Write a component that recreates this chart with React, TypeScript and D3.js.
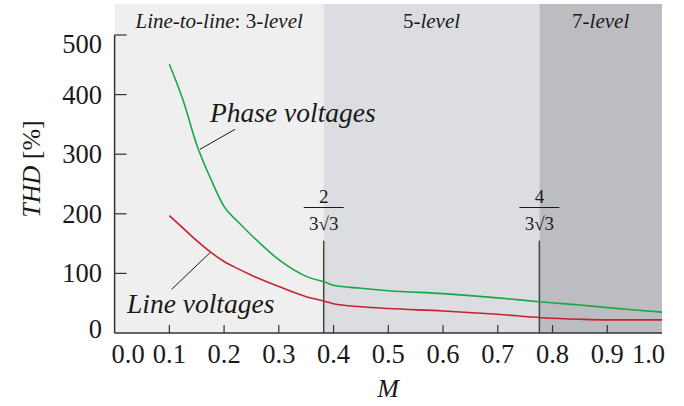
import React from "react";
import * as d3 from "d3";

const mValues = [0.1, 0.125, 0.15, 0.175, 0.2, 0.225, 0.25, 0.3, 0.35, 0.385, 0.4, 0.45, 0.5, 0.6, 0.7, 0.78, 0.85, 0.9, 0.95, 1.0];
const phaseTHD = [451, 391, 316, 260, 212, 187, 164, 123, 95, 85, 80, 75, 71, 66, 59, 52, 47, 42.5, 38.5, 35];
const lineTHD = [197, 176, 155, 136, 120, 108, 97, 78, 61, 53, 49, 44, 41, 37, 31.4, 25.7, 23, 22, 22, 22];

const xTicks = [0.0, 0.1, 0.2, 0.3, 0.4, 0.5, 0.6, 0.7, 0.8, 0.9, 1.0];
const yTicks = [0, 100, 200, 300, 400, 500];
const boundaries = [0.382, 0.776];
const fractionNumerators = ["2", "4"];
const regionLabels = [
  { parts: [{ t: "Line-to-line", i: true }, { t: ": 3-", i: false }, { t: "level", i: true }] },
  { parts: [{ t: "5-", i: false }, { t: "level", i: true }] },
  { parts: [{ t: "7-", i: false }, { t: "level", i: true }] },
];
const regionColors = ["#efefef", "#dcdde0", "#bcbdc1"];

const W = 684;
const H = 406;
const FONT = "Liberation Serif";
const BIGFONT = "Times New Roman";

function BigText({ x, y, size, rotate = 0, children, ...rest }: any) {
  return (
    <text
      transform={`translate(${x},${y}) rotate(${rotate})`}
      fontFamily={BIGFONT}
      fontSize={size}
      fill="#1a1a1a"
      {...rest}
    >
      {children}
    </text>
  );
}

export default function App() {
  const x = d3.scaleLinear().domain([0, 1]).range([114.6, 662]);
  const y = d3.scaleLinear().domain([0, 500]).range([333, 35]);
  const plotTop = 4;

  const edges = [0, ...boundaries, 1];

  const line = d3
    .line<number>()
    .x((_, i) => x(mValues[i]))
    .y((d) => y(d))
    .curve(d3.curveMonotoneX);

  return (
    <svg width={W} height={H} style={{ position: "absolute", left: 0, top: 0 }}>
      <rect x={0} y={0} width={W} height={H} fill="#ffffff" />
      {regionColors.map((c, i) => (
        <rect
          key={i}
          x={x(edges[i])}
          y={plotTop}
          width={x(edges[i + 1]) - x(edges[i])}
          height={y(0) - plotTop}
          fill={c}
        />
      ))}
      {regionLabels.map((r, i) => (
        <text
          key={i}
          x={(x(edges[i]) + x(edges[i + 1])) / 2}
          y={28}
          textAnchor="middle"
          fontSize={21}
          fontFamily={FONT}
          fill="#1a1a1a"
        >
          {r.parts.map((p, j) => (
            <tspan key={j} fontStyle={p.i ? "italic" : "normal"}>
              {p.t}
            </tspan>
          ))}
        </text>
      ))}

      {boundaries.map((b, i) => (
        <g key={i}>
          <line x1={x(b)} x2={x(b)} y1={240.7} y2={y(0)} stroke="#444" strokeWidth={1.5} />
          <text x={x(b)} y={203.3} textAnchor="middle" fontSize={19} fontFamily={FONT} fill="#1a1a1a">
            {fractionNumerators[i]}
          </text>
          <line x1={x(b) - 20} x2={x(b) + 20} y1={207.5} y2={207.5} stroke="#1a1a1a" strokeWidth={1} />
          <text x={x(b)} y={230} textAnchor="middle" fontSize={19} fontFamily={FONT} fill="#1a1a1a">
            3√3
          </text>
        </g>
      ))}

      <path d={line(phaseTHD) || ""} fill="none" stroke="#1aa64a" strokeWidth={1.6} />
      <path d={line(lineTHD) || ""} fill="none" stroke="#c8202f" strokeWidth={1.6} />

      <line x1={x(0)} x2={x(0)} y1={y(500)} y2={y(0)} stroke="#333" strokeWidth={1.5} />
      <line x1={x(0)} x2={x(1)} y1={y(0)} y2={y(0)} stroke="#333" strokeWidth={1.5} />
      {yTicks
        .filter((t) => t > 0)
        .map((t) => (
          <line key={t} x1={x(0)} x2={x(0) + 12} y1={y(t)} y2={y(t)} stroke="#333" strokeWidth={1.2} />
        ))}
      {xTicks
        .filter((t) => t > 0 && t < 1)
        .map((t) => (
          <line key={t} x1={x(t)} x2={x(t)} y1={y(0)} y2={y(0) - 8} stroke="#333" strokeWidth={1.2} />
        ))}
      {yTicks.map((t) => (
        <BigText key={t} x={102} y={y(t) + (t === 500 ? 18 : t === 0 ? 5 : 9)} size={26.5} textAnchor="end">
          {t}
        </BigText>
      ))}
      {xTicks.map((t) => (
        <BigText key={t} x={x(t) + (t === 0 ? 13.5 : t === 1 ? -13.5 : 0)} y={363} size={26.5} textAnchor="middle">
          {t.toFixed(1)}
        </BigText>
      ))}

      <BigText x={388} y={397} size={26} textAnchor="middle" fontStyle="italic">
        M
      </BigText>
      <BigText x={40} y={169} size={26} rotate={-90} textAnchor="middle">
        <tspan fontStyle="italic">THD</tspan>
        <tspan> [%]</tspan>
      </BigText>

      <BigText x={210} y={122} size={27.5} fontStyle="italic">
        Phase voltages
      </BigText>
      <line x1={235} y1={129.3} x2={200} y2={149.3} stroke="#1a1a1a" strokeWidth={1} />
      <BigText x={127} y={313} size={27.5} fontStyle="italic">
        Line voltages
      </BigText>
      <line x1={210} y1={252.7} x2={171.7} y2={289.3} stroke="#1a1a1a" strokeWidth={1} />
    </svg>
  );
}
